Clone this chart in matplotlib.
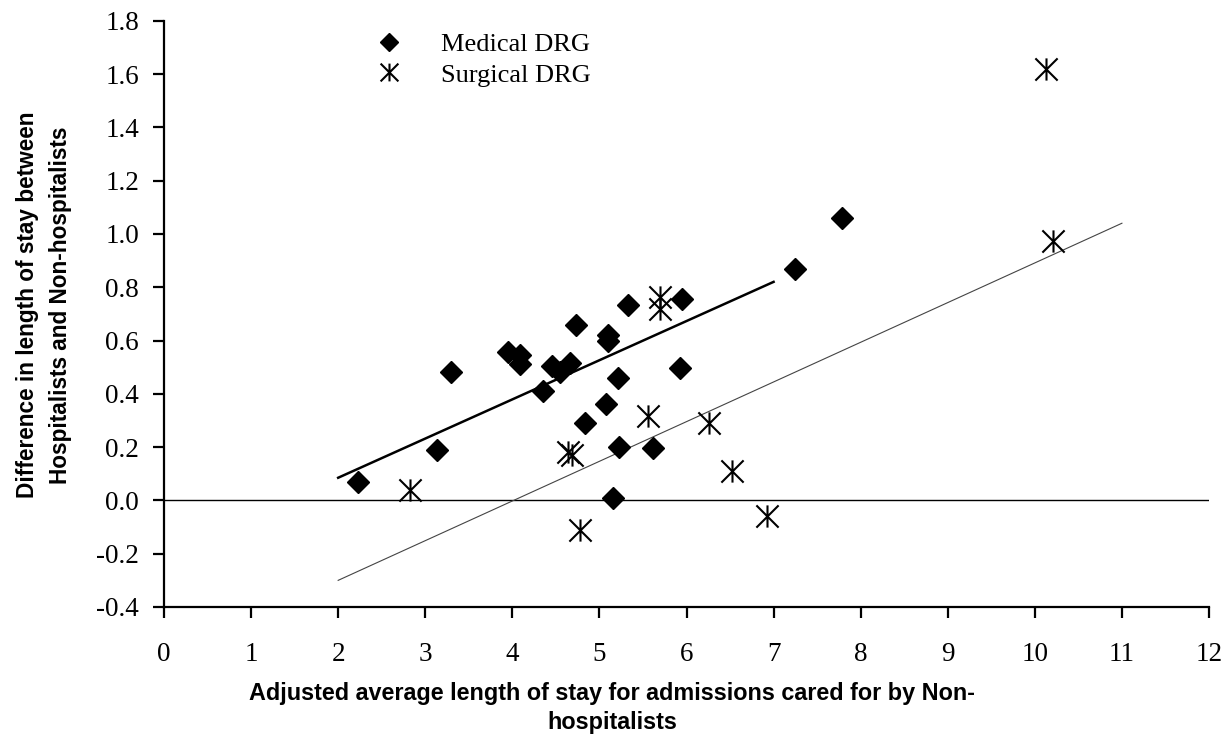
import numpy as np
import matplotlib
matplotlib.use("Agg")
import matplotlib.pyplot as plt
from matplotlib.path import Path

# Data
medical_x = [2.23, 3.13, 3.30, 3.95, 4.09, 4.09, 4.35, 4.46, 4.55, 4.66, 4.73, 4.83,
             5.08, 5.10, 5.10, 5.16, 5.21, 5.22, 5.33, 5.61, 5.92, 5.95, 7.25, 7.79]
medical_y = [0.07, 0.19, 0.48, 0.555, 0.545, 0.51, 0.41, 0.505, 0.48, 0.515, 0.66, 0.29,
             0.36, 0.62, 0.60, 0.01, 0.46, 0.20, 0.735, 0.195, 0.495, 0.755, 0.87, 1.06]

surgical_x = [2.82, 4.64, 4.68, 4.78, 5.56, 5.69, 5.69, 6.26, 6.52, 6.92, 10.13, 10.21]
surgical_y = [0.04, 0.18, 0.17, -0.11, 0.315, 0.765, 0.72, 0.29, 0.11, -0.06, 1.62, 0.975]

# trend lines (end points)
med_fit_x = [2, 7]
med_fit_y = [0.085, 0.82]
surg_fit_x = [2, 11]
surg_fit_y = [-0.30, 1.04]

x_ticks = list(range(0, 13))
y_ticks = [-0.4, -0.2, 0.0, 0.2, 0.4, 0.6, 0.8, 1.0, 1.2, 1.4, 1.6, 1.8]

W, H = 1225, 740
fig = plt.figure(figsize=(W / 100, H / 100), dpi=100)
ax = fig.add_axes([164 / W, 1 - 607 / H, (1209 - 164) / W, (607 - 20.7) / H])

# Excel style asterisk: X plus vertical bar
star = Path([(-1, -1), (1, 1), (-1, 1), (1, -1), (0, -1.0), (0, 1.0)],
            [Path.MOVETO, Path.LINETO, Path.MOVETO, Path.LINETO, Path.MOVETO, Path.LINETO])

ax.axhline(0, color="black", lw=1.0, zorder=1)
ax.plot(med_fit_x, med_fit_y, color="black", lw=1.8, zorder=2)
ax.plot(surg_fit_x, surg_fit_y, color="#444444", lw=0.8, zorder=2)

ax.plot(medical_x, medical_y, linestyle="none", marker="D", ms=11.5,
        color="black", label="Medical DRG", zorder=3)
ax.plot(surgical_x, surgical_y, linestyle="none", marker=star, ms=16,
        markeredgecolor="black", markerfacecolor="none", markeredgewidth=1.5,
        label="Surgical DRG", zorder=3)

ax.set_xlim(0, 12)
ax.set_ylim(-0.4, 1.8)
ax.set_xticks(x_ticks)
ax.set_yticks(y_ticks)
ax.set_xticklabels([str(t) for t in x_ticks])
ax.set_yticklabels(["%.1f" % t for t in y_ticks])

for side in ["top", "right"]:
    ax.spines[side].set_visible(False)
for side in ["left", "bottom"]:
    ax.spines[side].set_linewidth(1.6)

ax.tick_params(axis="both", direction="out", length=8, width=1.6,
               labelsize=19.5, pad=10)
ax.tick_params(axis="x", pad=17)
for lab in ax.get_xticklabels() + ax.get_yticklabels():
    lab.set_family("Liberation Serif")

leg = ax.legend(loc="upper left", bbox_to_anchor=(378 / W, 1 - 33 / H),
                bbox_transform=fig.transFigure, frameon=False,
                prop={"family": "Liberation Serif", "size": 19},
                handlelength=0.85, handletextpad=1.55, labelspacing=0.25,
                borderpad=0, borderaxespad=0, markerscale=0.8)

fig.text(612 / W, 1 - 708 / H,
         "Adjusted average length of stay for admissions cared for by Non-\nhospitalists",
         ha="center", va="center", fontsize=16.8, fontweight="bold",
         family="Liberation Sans", linespacing=1.35)
fig.text(44 / W, 1 - 305 / H,
         "Difference in length of stay between\nHospitalists and Non-hospitalists",
         ha="center", va="center", rotation=90, fontsize=16.3, fontweight="bold",
         family="Liberation Sans", linespacing=1.6)

fig.savefig("out.png", dpi=100)
